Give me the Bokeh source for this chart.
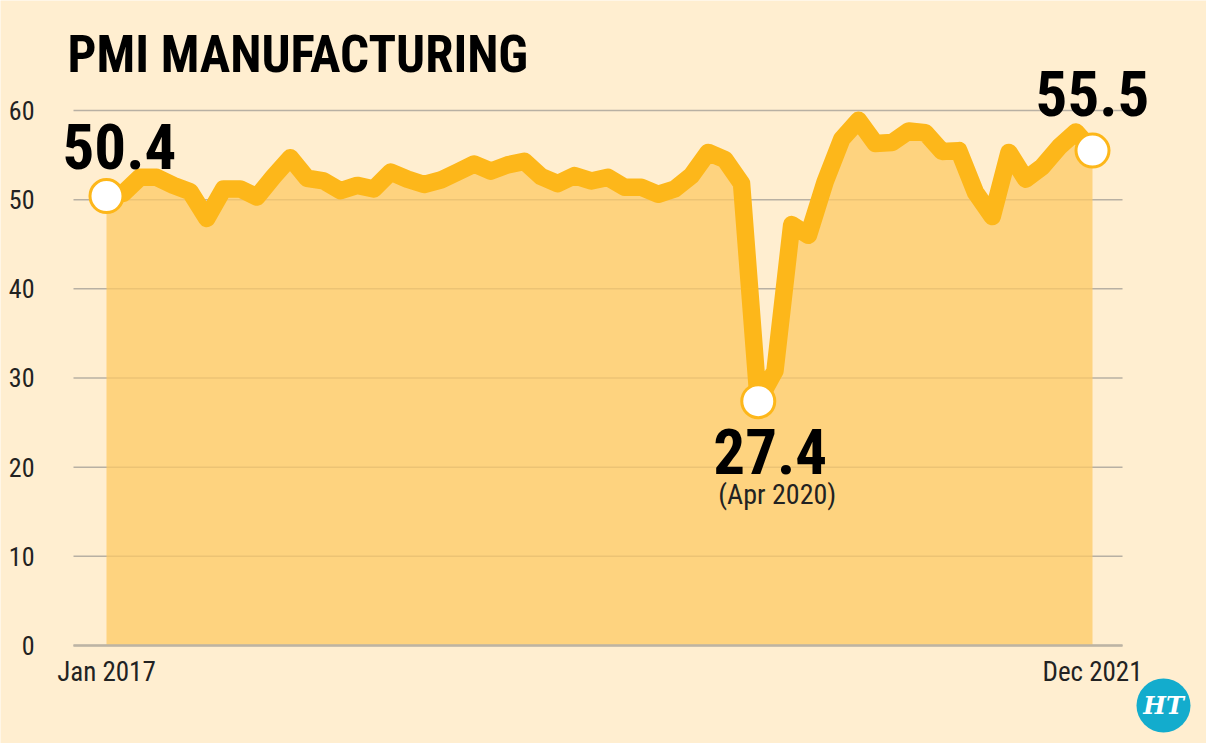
from bokeh.plotting import figure
from bokeh.models import ColumnDataSource, Label, BoxAnnotation, Range1d, FixedTicker
from bokeh.embed import file_html
from bokeh.resources import INLINE

# ---- data ----
months = list(range(60))  # Jan 2017 .. Dec 2021
pmi = [
    50.4, 50.7, 52.5, 52.5, 51.6, 50.9, 47.9, 51.2, 51.2, 50.3, 52.6, 54.7,
    52.4, 52.1, 51.0, 51.6, 51.2, 53.1, 52.3, 51.7, 52.2, 53.1, 54.0, 53.2,
    53.9, 54.3, 52.6, 51.8, 52.7, 52.1, 52.5, 51.4, 51.4, 50.6, 51.2, 52.7,
    55.3, 54.5, 51.8, 27.4, 30.8, 47.2, 46.0, 52.0, 56.8, 58.9, 56.3, 56.4,
    57.7, 57.5, 55.4, 55.5, 50.8, 48.1, 55.3, 52.3, 53.7, 55.9, 57.6, 55.5,
]
y_ticks = [0, 10, 20, 30, 40, 50, 60]
x_tick_labels = {0: "Jan 2017", 59: "Dec 2021"}
highlight_idx = [0, 39, 59]
title_text = "PMI MANUFACTURING"

BG = "#FFEED0"
LINE = "#FDB71A"
FONT = "Roboto Condensed"

# plot area extents (data units)
X0, X1 = -6.343, 65.821
Y0, Y1 = -10.991, 72.336
GRID_X0, GRID_X1 = -1.975, 60.796

p = figure(width=1206, height=743, output_backend="svg", toolbar_location=None,
           x_range=Range1d(X0, X1), y_range=Range1d(Y0, Y1),
           min_border=0, title=None)
p.background_fill_color = BG
p.border_fill_color = BG
p.outline_line_color = None
p.xgrid.visible = False
p.ygrid.visible = False

# grid lines
p.segment(x0=[GRID_X0] * len(y_ticks), x1=[GRID_X1] * len(y_ticks), y0=y_ticks, y1=y_ticks,
          line_color="#B8B0A3", line_width=1.5, level="underlay")

src = ColumnDataSource(dict(x=months, y=pmi, zero=[0] * len(months)))
p.varea(x="x", y1="zero", y2="y", source=src, fill_color="#FECA64", fill_alpha=0.75)
p.line(x="x", y="y", source=src, line_color=LINE, line_width=17.5, line_join="round", line_cap="round")

hsrc = ColumnDataSource(dict(x=[months[i] for i in highlight_idx], y=[pmi[i] for i in highlight_idx]))
p.scatter(x="x", y="y", source=hsrc, size=33, fill_color="white", line_color=LINE, line_width=3)

# axes (drawn at fixed data locations)
yax = p.yaxis[0]
yax.fixed_location = GRID_X0
yax.ticker = FixedTicker(ticks=y_ticks)
yax.axis_line_color = None
yax.major_tick_line_color = None
yax.minor_tick_line_color = None
yax.major_label_standoff = 33
yax.major_label_text_font = FONT
yax.major_label_text_font_size = "26px"
yax.major_label_text_color = "#222222"

xax = p.xaxis[0]
xax.fixed_location = 0
xax.bounds = (GRID_X0, GRID_X1)
xax.ticker = FixedTicker(ticks=list(x_tick_labels.keys()))
xax.major_label_overrides = x_tick_labels
xax.axis_line_color = "#BDB4A4"
xax.axis_line_width = 2.5
xax.major_tick_line_color = None
xax.minor_tick_line_color = None
xax.major_label_standoff = 5
xax.major_label_text_font = FONT
xax.major_label_text_font_size = "27px"
xax.major_label_text_color = "#222222"

# title
p.add_layout(Label(x=67, y=689, x_units="screen", y_units="screen", text=title_text,
                   text_font=FONT, text_font_style="bold", text_font_size="51px",
                   text_color="black", text_baseline="alphabetic", text_align="left"))

# value annotations
i0, i1, i2 = highlight_idx
big = dict(text_font=FONT, text_font_style="bold", text_font_size="63px",
           text_color="black", text_baseline="alphabetic")
p.add_layout(Label(x=months[i0], y=pmi[i0], text=f"{pmi[i0]}", x_offset=-44, y_offset=50,
                   text_align="left", **big))
p.add_layout(Label(x=months[i2], y=pmi[i2], text=f"{pmi[i2]}", x_offset=0, y_offset=57,
                   text_align="center", **big))
p.add_layout(Label(x=months[i1], y=pmi[i1], text=f"{pmi[i1]}", x_offset=12, y_offset=-50,
                   text_align="center", **big))
p.add_layout(Label(x=months[i1], y=pmi[i1], text="(Apr 2020)", x_offset=19, y_offset=-93,
                   text_font=FONT, text_font_size="28px",
                   text_color="#222222", text_align="center", text_baseline="alphabetic"))

# HT logo
p.add_layout(BoxAnnotation(left=1136, right=1190, bottom=11, top=65,
                           left_units="screen", right_units="screen",
                           bottom_units="screen", top_units="screen",
                           fill_color="#13ACCD", fill_alpha=1, line_color=None,
                           border_radius=27))
p.add_layout(Label(x=1163, y=38, x_units="screen", y_units="screen", text="HT",
                   text_font="DejaVu Serif", text_font_style="bold italic", text_font_size="24px",
                   text_color="white", text_align="center", text_baseline="middle"))

open("out.html", "w").write(file_html(p, INLINE))
